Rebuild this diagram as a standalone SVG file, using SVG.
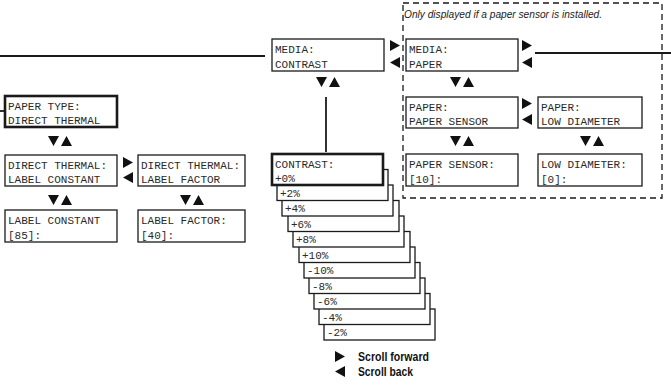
<svg xmlns="http://www.w3.org/2000/svg" width="671" height="388" viewBox="0 0 671 388">
<defs>
<style>
.bx{fill:#fff;stroke:#1a1a1a;stroke-width:1.3}
.bt{fill:#fff;stroke:#1a1a1a;stroke-width:2.6}
.m{font-family:"Liberation Mono","DejaVu Sans Mono",monospace;font-size:11px;fill:#2a2a2a}
.ln{stroke:#1a1a1a;stroke-width:1.8;fill:none}
.tri{fill:#111}
.dash{fill:none;stroke:#1a1a1a;stroke-width:1.3;stroke-dasharray:6 4}
.note{font-family:"Liberation Sans Narrow","Liberation Sans",sans-serif;font-style:italic;font-size:11.5px;fill:#222}
.leg{font-family:"Liberation Sans Narrow","Liberation Sans",sans-serif;font-weight:bold;font-size:12.5px;fill:#111}
</style>
<path id="rt" d="M0,0 L10,5.5 L0,11 Z"/>
<path id="lt" d="M10,0 L0,5.5 L10,11 Z"/>
<path id="ud" d="M0,0 L11,0 L5.5,10 Z M13,10 L24,10 L18.5,0 Z"/>
</defs>

<rect class="dash" x="403" y="3" width="259" height="195"/>
<text class="note" x="404" y="18" textLength="198" lengthAdjust="spacingAndGlyphs">Only displayed if a paper sensor is installed.</text>

<g id="connectors">
<line class="ln" x1="0" y1="56" x2="265" y2="56"/>
<line class="ln" x1="535" y1="53" x2="671" y2="53"/>
<line class="ln" x1="326" y1="97" x2="326" y2="152"/>
<line class="ln" x1="0" y1="111" x2="4" y2="111"/>
<use class="tri" href="#rt" x="390" y="40"/>
<use class="tri" href="#lt" x="390" y="57"/>
<use class="tri" href="#rt" x="522" y="40"/>
<use class="tri" href="#lt" x="522" y="57"/>
<use class="tri" href="#rt" x="522" y="98"/>
<use class="tri" href="#lt" x="522" y="114"/>
<use class="tri" href="#rt" x="123" y="157"/>
<use class="tri" href="#lt" x="123" y="172"/>
<use class="tri" href="#ud" x="316" y="77"/>
<use class="tri" href="#ud" x="450" y="77"/>
<use class="tri" href="#ud" x="450" y="136"/>
<use class="tri" href="#ud" x="580" y="136"/>
<use class="tri" href="#ud" x="48" y="136"/>
<use class="tri" href="#ud" x="48" y="195"/>
<use class="tri" href="#ud" x="180" y="195"/>
</g>

<g id="media-contrast"><rect class="bx" x="272" y="39" width="112" height="32"/><text class="m" x="275" y="53">MEDIA:</text><text class="m" x="275" y="68">CONTRAST</text></g>
<g id="media-paper"><rect class="bx" x="406" y="39" width="112" height="32"/><text class="m" x="409" y="53">MEDIA:</text><text class="m" x="409" y="68">PAPER</text></g>
<g id="paper-sensor"><rect class="bx" x="406" y="97" width="112" height="31"/><text class="m" x="409" y="111">PAPER:</text><text class="m" x="409" y="125">PAPER SENSOR</text></g>
<g id="paper-lowdiam"><rect class="bx" x="538" y="97" width="104" height="31"/><text class="m" x="541" y="111">PAPER:</text><text class="m" x="541" y="125">LOW DIAMETER</text></g>
<g id="sensor-val"><rect class="bx" x="406" y="154" width="112" height="32"/><text class="m" x="409" y="168">PAPER SENSOR:</text><text class="m" x="409" y="183">[10]:</text></g>
<g id="lowdiam-val"><rect class="bx" x="538" y="154" width="104" height="32"/><text class="m" x="541" y="168">LOW DIAMETER:</text><text class="m" x="541" y="183">[0]:</text></g>

<g id="paper-type"><rect class="bt" x="5" y="96" width="112" height="31"/><text class="m" x="8" y="110">PAPER TYPE:</text><text class="m" x="8" y="124">DIRECT THERMAL</text></g>
<g id="dt-constant"><rect class="bx" x="5" y="155" width="112" height="31"/><text class="m" x="8" y="169">DIRECT THERMAL:</text><text class="m" x="8" y="183">LABEL CONSTANT</text></g>
<g id="dt-factor"><rect class="bx" x="138" y="155" width="107" height="31"/><text class="m" x="141" y="169">DIRECT THERMAL:</text><text class="m" x="141" y="183">LABEL FACTOR</text></g>
<g id="constant-val"><rect class="bx" x="5" y="210" width="112" height="32"/><text class="m" x="8" y="224">LABEL CONSTANT</text><text class="m" x="8" y="239">[85]:</text></g>
<g id="factor-val"><rect class="bx" x="138" y="210" width="107" height="32"/><text class="m" x="141" y="224">LABEL FACTOR:</text><text class="m" x="141" y="239">[40]:</text></g>

<g id="contrast-stack">
<g id="c-m2"><rect class="bx" x="324" y="309" width="111" height="31"/><text class="m" x="327" y="336">-2%</text></g>
<g id="c-m4"><rect class="bx" x="319" y="293.5" width="111" height="31"/><text class="m" x="322" y="320.5">-4%</text></g>
<g id="c-m6"><rect class="bx" x="314" y="278" width="111" height="31"/><text class="m" x="317" y="305">-6%</text></g>
<g id="c-m8"><rect class="bx" x="309" y="262.5" width="111" height="31"/><text class="m" x="312" y="289.5">-8%</text></g>
<g id="c-m10"><rect class="bx" x="304" y="247" width="111" height="31"/><text class="m" x="307" y="274">-10%</text></g>
<g id="c-p10"><rect class="bx" x="299" y="231.5" width="111" height="31"/><text class="m" x="302" y="258.5">+10%</text></g>
<g id="c-p8"><rect class="bx" x="293" y="216" width="111" height="31"/><text class="m" x="296" y="243">+8%</text></g>
<g id="c-p6"><rect class="bx" x="288" y="200.5" width="111" height="31"/><text class="m" x="291" y="227.5">+6%</text></g>
<g id="c-p4"><rect class="bx" x="282" y="185" width="111" height="31"/><text class="m" x="285" y="212">+4%</text></g>
<g id="c-p2"><rect class="bx" x="277" y="169.5" width="111" height="31"/><text class="m" x="280" y="196.5">+2%</text></g>
<g id="c-p0"><rect class="bt" x="272" y="154" width="111" height="31"/><text class="m" x="275" y="168">CONTRAST:</text><text class="m" x="275" y="182">+0%</text></g>
</g>

<g id="legend">
<use class="tri" href="#rt" x="335" y="351"/>
<text class="leg" x="358" y="361" textLength="71" lengthAdjust="spacingAndGlyphs">Scroll forward</text>
<use class="tri" href="#lt" x="335" y="366"/>
<text class="leg" x="358" y="376" textLength="55" lengthAdjust="spacingAndGlyphs">Scroll back</text>
</g>
</svg>
